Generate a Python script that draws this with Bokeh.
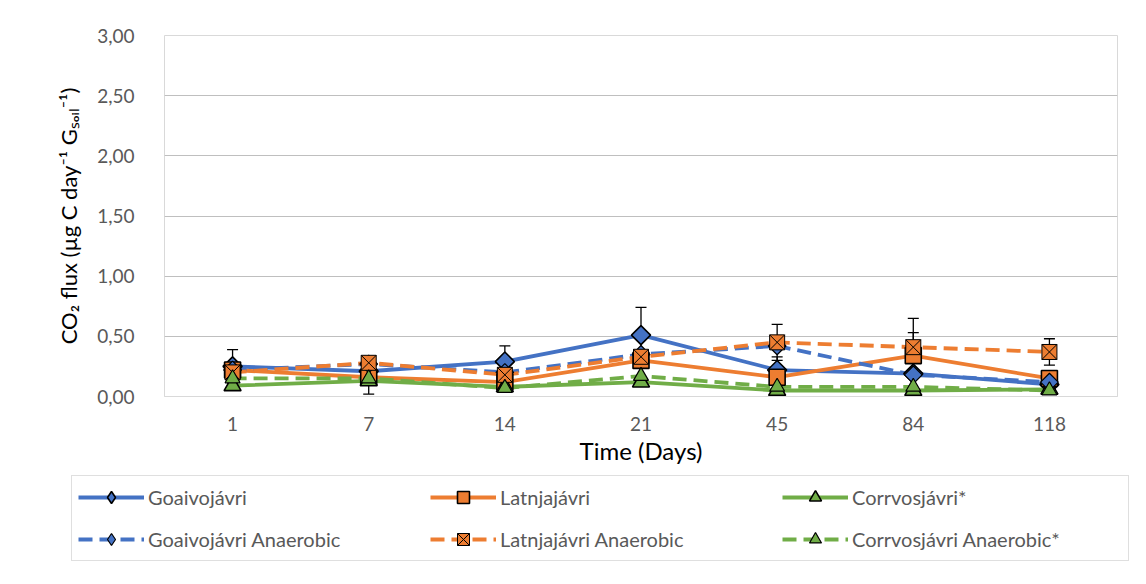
from bokeh.plotting import figure
from bokeh.models import (ColumnDataSource, Whisker, Legend, LegendItem,
                          CustomJSTickFormatter, FixedTicker, Range1d, FactorRange)
from bokeh.embed import file_html
from bokeh.resources import INLINE

days = ["1", "7", "14", "21", "45", "84", "118"]

goaivo = [0.25, 0.21, 0.29, 0.51, 0.22, 0.19, 0.10]
latnja = [0.22, 0.16, 0.12, 0.30, 0.16, 0.34, 0.15]
corrvos = [0.09, 0.13, 0.08, 0.12, 0.05, 0.05, 0.06]
goaivo_an = [0.22, 0.27, 0.20, 0.35, 0.42, 0.18, 0.12]
latnja_an = [0.20, 0.28, 0.18, 0.33, 0.45, 0.41, 0.37]
corrvos_an = [0.15, 0.15, 0.07, 0.17, 0.08, 0.08, 0.05]

goaivo_err = [0.14, 0.00, 0.13, 0.23, 0.11, 0.00, 0.00]
latnja_err = [0.00, 0.00, 0.00, 0.00, 0.00, 0.31, 0.00]
corrvos_err = [0.00, 0.11, 0.00, 0.00, 0.00, 0.00, 0.00]
latnja_an_err = [0.00, 0.00, 0.00, 0.00, 0.15, 0.12, 0.11]

names = ["Goaivojávri", "Latnjajávri", "Corrvosjávri*",
         "Goaivojávri Anaerobic", "Latnjajávri Anaerobic", "Corrvosjávri Anaerobic*"]

BLUE, ORANGE, GREEN = "#4472C4", "#ED7D31", "#70AD47"
FONT = "Lato"
DASH = "14 7"

p = figure(width=1138, height=470, x_range=days, y_range=Range1d(0, 3.0),
           output_backend="svg", toolbar_location=None,
           min_border_left=164, min_border_right=21, min_border_top=35,
           min_border_bottom=74)

p.outline_line_color = "#d9d9d9"
p.ygrid.grid_line_color = "#bfbfbf"
p.ygrid.grid_line_width = 1
p.xgrid.grid_line_color = None
p.yaxis.ticker = FixedTicker(ticks=[0, 0.5, 1.0, 1.5, 2.0, 2.5, 3.0])
p.yaxis.formatter = CustomJSTickFormatter(code="return tick.toFixed(2).replace('.', ',');")
p.yaxis.axis_line_color = None
p.yaxis.major_tick_line_color = None
p.yaxis.minor_tick_line_color = None
p.xaxis.axis_line_color = "#d9d9d9"
p.xaxis.major_tick_line_color = None
p.xaxis.minor_tick_line_color = None
for ax in (p.xaxis, p.yaxis):
    ax.major_label_text_font = FONT
    ax.major_label_text_font_size = "19px"
    ax.major_label_text_color = "#595959"
    ax.axis_label_text_font = FONT
    ax.axis_label_text_font_style = "normal"
    ax.axis_label_text_color = "#000000"
p.xaxis.axis_label_text_font_size = "24px"
p.yaxis.axis_label_text_font_size = "22px"
p.yaxis.axis_label = "CO₂ flux (µg C day⁻¹ Gₛₒᵢₗ⁻¹)"
p.xaxis.axis_label = "Time (Days)"
p.yaxis.major_label_standoff = 24
p.yaxis.axis_label_standoff = 12
p.xaxis.major_label_standoff = 14
p.xaxis.axis_label_standoff = 2

# (values, errors, colour, dash, marker, size, angle, outline width, legend marker, legend size)
series = [
    (goaivo, goaivo_err, BLUE, "solid", "square", 13.5, 0.785, 1.6, "diamond", 18),
    (latnja, latnja_err, ORANGE, "solid", "square", 16, 0.0, 1.6, "square", 14),
    (corrvos, corrvos_err, GREEN, "solid", "triangle", 17, 0.0, 1.6, "triangle", 15),
    (goaivo_an, None, BLUE, DASH, "square", 12.5, 0.785, 1.2, "diamond", 16),
    (latnja_an, latnja_an_err, ORANGE, DASH, "square_x", 15, 0.0, 1.0, "square_x", 13),
    (corrvos_an, None, GREEN, DASH, "triangle", 15, 0.0, 1.2, "triangle", 13),
]

srcs = []
for s in series:
    vals, err, color, dash = s[0], s[1], s[2], s[3]
    src = ColumnDataSource(dict(x=days, y=vals))
    p.line("x", "y", source=src, line_color=color, line_width=3.8, line_dash=dash)
    srcs.append(src)

for s in series:
    vals, err = s[0], s[1]
    if err is not None:
        xs = [d for d, e in zip(days, err) if e > 0]
        up = [v + e for v, e in zip(vals, err) if e > 0]
        lo = [max(v - e, 0) for v, e in zip(vals, err) if e > 0]
        if xs:
            es = ColumnDataSource(dict(x=xs, upper=up, lower=lo))
            w = Whisker(base="x", upper="upper", lower="lower", source=es,
                        line_color="black", line_width=1.3)
            w.upper_head.line_color = "black"
            w.lower_head.line_color = "black"
            w.upper_head.line_width = 1.3
            w.lower_head.line_width = 1.3
            w.upper_head.size = 11
            w.lower_head.size = 11
            p.add_layout(w)

for src, s in zip(srcs, series):
    vals, err, color, dash, marker, size, ang, lw = s[:8]
    p.scatter("x", "y", source=src, marker=marker, size=size, angle=ang,
              fill_color=color, line_color="black", line_width=lw)

# legend panel (its glyphs share the series data but lie outside its view)
p2 = figure(width=1138, height=106, output_backend="svg", toolbar_location=None,
            x_axis_location=None, y_axis_location=None, min_border=0,
            x_range=FactorRange(*days), y_range=Range1d(100, 101))
p2.outline_line_color = None
p2.grid.grid_line_color = None

items = []
for src, s, name in zip(srcs, series, names):
    vals, err, color, dash, marker, size, ang, lw, lmarker, lsize = s
    ln = p2.line("x", "y", source=src, line_color=color, line_width=3.8, line_dash=dash)
    sc = p2.scatter("x", "y", source=src, marker=lmarker, size=lsize,
                    fill_color=color, line_color="black", line_width=lw)
    items.append(LegendItem(label=name, renderers=[ln, sc], index=0))

legend = Legend(items=items, orientation="horizontal", ncols=3,
                location=(71, 15), border_line_color="#bfbfbf",
                border_line_width=1.5,
                label_text_font=FONT, label_text_font_size="20px",
                label_text_color="#595959", glyph_width=66, glyph_height=30,
                label_width=270, spacing=12, padding=6, margin=0,
                label_standoff=4, background_fill_color="white")
p2.add_layout(legend, "center")

open("out.html", "w").write(file_html([p, p2], INLINE))
